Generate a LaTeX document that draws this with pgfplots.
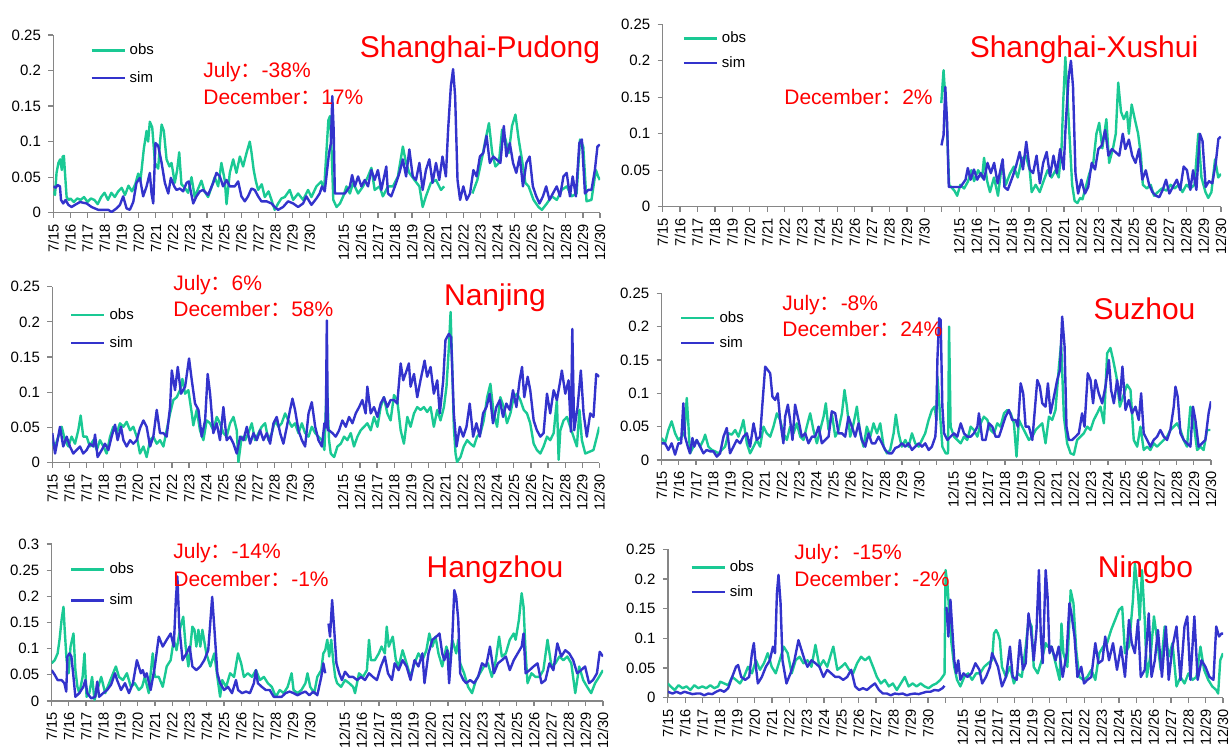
\documentclass[border=0pt]{standalone}
\usepackage{pgfplots}
\pgfplotsset{compat=1.18}
\usepackage{fontspec}
\setmainfont{Liberation Sans}
\newfontfamily\cjk{Noto Sans CJK SC}
\definecolor{obsc}{RGB}{26,201,148}
\definecolor{simc}{RGB}{51,51,204}
\definecolor{axgray}{RGB}{134,134,134}
\definecolor{lblred}{RGB}{255,0,0}
\newcommand{\fc}{{\cjk ：}}
\pgfplotsset{
  panel/.style={
    scale only axis, xmin=0, xmax=32, ymin=0,
    axis x line*=bottom, axis y line*=left,
    axis line style={draw=axgray, line width=0.7pt},
    tick style={draw=axgray, line width=0.6pt},
    tick align=outside, major tick length=2.5pt,
    xtick={0,...,32},
    xticklabels={7/15,7/16,7/17,7/18,7/19,7/20,7/21,7/22,7/23,7/24,7/25,7/26,7/27,7/28,7/29,7/30,{},12/15,12/16,12/17,12/18,12/19,12/20,12/21,12/22,12/23,12/24,12/25,12/26,12/27,12/28,12/29,12/30},
    x tick label style={rotate=90, anchor=east, font=\fontsize{7.3}{8}\selectfont, inner sep=3pt},
    y tick label style={font=\fontsize{7.5}{8}\selectfont, inner sep=3.5pt},
    scaled y ticks=false,
    yticklabel style={/pgf/number format/fixed, /pgf/number format/precision=2},
    /pgf/number format/assume math mode=true,
    unbounded coords=jump,
    legend cell align=left,
    legend image code/.code={\draw[##1, line width=1.2pt] (0pt,0pt) -- (16.5pt,0pt);},
    every axis plot/.append style={line width=1.2pt, line join=round, no marks},
  },
  obs/.style={color=obsc},
  sim/.style={color=simc},
  leg/.style n args={3}{legend style={at={(#1,#2)}, anchor=north west, draw=none, fill=none, inner sep=0pt, font=\fontsize{7.5}{8}\selectfont, row sep=#3}},
}
\begin{document}
\begin{tikzpicture}
\path[use as bounding box] (0pt,0pt) rectangle (615.5pt,377pt);

% ---------- Panel 1: Shanghai-Pudong ----------
\begin{axis}[panel, at={(26.65pt,270.65pt)}, anchor=south west, width=273.35pt, height=88.85pt,
  ymax=0.25, ytick={0,0.05,0.1,0.15,0.2,0.25}, leg={0.067}{0.977}{3pt}]
\addplot[obs] coordinates {(0,0.030) (0.1,0.025) (0.19,0.056) (0.3,0.07) (0.4,0.075) (0.5,0.06) (0.55,0.079) (0.62,0.08) (0.7,0.05) (0.78,0.022) (0.9,0.018) (1.0,0.02) (1.2,0.015) (1.4,0.02) (1.6,0.018) (1.8,0.022) (2.0,0.015) (2.2,0.02) (2.4,0.018) (2.6,0.012) (2.8,0.022) (3.0,0.028) (3.2,0.018) (3.4,0.028) (3.6,0.022) (3.8,0.03) (4.0,0.035) (4.2,0.025) (4.4,0.038) (4.6,0.03) (4.8,0.04) (4.97,0.055) (5.1,0.045) (5.3,0.09) (5.46,0.115) (5.55,0.1) (5.65,0.128) (5.79,0.12) (5.95,0.07) (6.14,0.062) (6.25,0.1) (6.34,0.124) (6.47,0.115) (6.63,0.075) (6.8,0.065) (6.92,0.07) (7.11,0.042) (7.25,0.06) (7.37,0.085) (7.5,0.04) (7.7,0.035) (7.89,0.028) (8.09,0.05) (8.28,0.022) (8.5,0.035) (8.67,0.045) (8.85,0.03) (9.06,0.022) (9.25,0.035) (9.45,0.05) (9.65,0.037) (9.84,0.07) (10.04,0.045) (10.14,0.012) (10.33,0.056) (10.53,0.075) (10.72,0.056) (10.92,0.079) (11.11,0.065) (11.31,0.084) (11.5,0.1) (11.6,0.085) (11.73,0.06) (11.85,0.045) (11.99,0.032) (12.2,0.04) (12.38,0.022) (12.6,0.03) (12.77,0.018) (12.96,0.004) (13.16,0.013) (13.35,0.02) (13.55,0.022) (13.84,0.032) (14.04,0.018) (14.33,0.027) (14.62,0.018) (14.91,0.032) (15.11,0.022) (15.4,0.037) (15.69,0.044) (15.85,0.032)
(16.10,0.13) (16.2,0.136) (16.3,0.08) (16.39,0.018) (16.58,0.008) (16.78,0.013) (16.97,0.023) (17.16,0.037) (17.36,0.027) (17.55,0.042) (17.84,0.027) (18.13,0.037) (18.42,0.051) (18.62,0.063) (18.81,0.032) (19.1,0.037) (19.29,0.023) (19.59,0.037) (19.88,0.037) (20.17,0.051) (20.46,0.093) (20.65,0.07) (20.84,0.056) (21.14,0.046) (21.43,0.037) (21.62,0.008) (21.81,0.023) (22.1,0.042) (22.4,0.046) (22.69,0.032) (22.88,0.037) (23.7,nan)
(24.53,0.027) (24.82,0.046) (25.11,0.079) (25.3,0.103) (25.5,0.126) (25.69,0.084) (25.88,0.065) (26.08,0.07) (26.27,0.117) (26.47,0.103) (26.66,0.084) (26.85,0.122) (27.05,0.138) (27.24,0.103) (27.43,0.075) (27.63,0.042) (27.82,0.037) (28.11,0.018) (28.4,0.008) (28.6,0.004) (28.89,0.013) (29.18,0.023) (29.47,0.018) (29.76,0.032) (30.05,0.037) (30.34,0.023) (30.63,0.027) (30.83,0.103) (31.02,0.093) (31.21,0.016) (31.5,0.018) (31.76,0.06) (31.89,0.051) (31.99,0.046)};
\addlegendentry{obs}
\addplot[sim] coordinates {(0,0.037) (0.14,0.035) (0.25,0.039) (0.39,0.037) (0.45,0.018) (0.58,0.013) (0.72,0.018) (0.88,0.011) (1.07,0.008) (1.27,0.011) (1.56,0.015) (1.95,0.013) (2.24,0.008) (2.63,0.004) (2.92,0.004) (3.22,0.004) (3.41,0.001) (3.7,0.006) (3.9,0.011) (4.09,0.023) (4.29,0.006) (4.48,0.004) (4.68,0.015) (4.87,0.042) (5.07,0.049) (5.26,0.023) (5.46,0.037) (5.65,0.056) (5.75,0.027) (5.85,0.013) (5.98,0.098) (6.14,0.094) (6.34,0.07) (6.53,0.042) (6.73,0.027) (6.88,0.049) (7.08,0.037) (7.21,0.032) (7.41,0.034) (7.6,0.030) (7.8,0.042) (7.93,0.044) (8.19,0.013) (8.38,0.023) (8.58,0.030) (8.77,0.032) (9.06,0.025) (9.36,0.042) (9.55,0.056) (9.75,0.051) (9.94,0.037) (10.14,0.046) (10.33,0.037) (10.62,0.037) (10.82,0.044) (11.01,0.023) (11.21,0.016) (11.4,0.023) (11.6,0.034) (11.79,0.032) (11.99,0.023) (12.18,0.016) (12.48,0.016) (12.77,0.013) (12.96,0.008) (13.16,0.004) (13.45,0.008) (13.74,0.016) (14.04,0.013) (14.33,0.008) (14.62,0.013) (14.81,0.023) (15.11,0.011) (15.4,0.020) (15.59,0.027) (15.73,0.037) (15.89,0.030)
(16.14,0.084) (16.25,0.098) (16.33,0.164) (16.41,0.117) (16.48,0.027) (16.78,0.027) (17.07,0.027) (17.36,0.037) (17.49,0.053) (17.65,0.037) (17.84,0.051) (18.03,0.037) (18.23,0.046) (18.42,0.037) (18.62,0.06) (18.81,0.046) (19.0,0.06) (19.2,0.032) (19.49,0.065) (19.59,0.027) (19.78,0.023) (20.07,0.042) (20.26,0.056) (20.46,0.075) (20.65,0.051) (20.84,0.089) (21.04,0.051) (21.23,0.046) (21.43,0.07) (21.62,0.032) (21.81,0.06) (22.01,0.075) (22.2,0.042) (22.4,0.07) (22.59,0.046) (22.78,0.079) (22.98,0.051) (23.11,0.117) (23.27,0.178) (23.4,0.202) (23.52,0.164) (23.66,0.046) (23.81,0.018) (24.0,0.037) (24.2,0.018) (24.39,0.027) (24.59,0.06) (24.78,0.051) (24.97,0.079) (25.17,0.084) (25.36,0.108) (25.55,0.07) (25.75,0.079) (25.94,0.075) (26.17,0.07) (26.37,0.122) (26.52,0.079) (26.72,0.098) (26.91,0.07) (27.1,0.056) (27.3,0.079) (27.49,0.037) (27.69,0.07) (27.88,0.079) (28.07,0.037) (28.27,0.023) (28.46,0.013) (28.66,0.023) (28.85,0.037) (29.04,0.018) (29.24,0.027) (29.47,0.037) (29.66,0.023) (29.86,0.051) (30.05,0.056) (30.24,0.023) (30.4,0.051) (30.59,0.023) (30.79,0.098) (30.94,0.103) (31.12,0.027) (31.31,0.032) (31.5,0.032) (31.7,0.06) (31.85,0.093) (31.99,0.096)};
\addlegendentry{sim}
\end{axis}

% ---------- Panel 2: Shanghai-Xushui ----------
\begin{axis}[panel, at={(331.3pt,273.65pt)}, anchor=south west, width=279.2pt, height=91.2pt,
  ymax=0.25, ytick={0,0.05,0.1,0.15,0.2,0.25}, leg={0.035}{0.985}{1.5pt}]
\addplot[obs] coordinates {(15.97,0.142) (16.1,0.187) (16.28,0.12) (16.42,0.03) (16.72,0.022) (16.88,0.015) (17.06,0.03) (17.28,0.025) (17.51,0.035) (17.69,0.05) (17.85,0.035) (18.08,0.05) (18.31,0.04) (18.42,0.067) (18.6,0.035) (18.76,0.02) (18.99,0.04) (19.22,0.015) (19.45,0.06) (19.67,0.03) (19.9,0.045) (20.13,0.055) (20.35,0.04) (20.58,0.065) (20.81,0.07) (21.04,0.05) (21.15,0.02) (21.38,0.03) (21.61,0.02) (21.83,0.035) (22.06,0.05) (22.29,0.04) (22.52,0.05) (22.7,0.04) (22.86,0.08) (22.97,0.15) (23.08,0.205) (23.2,0.15) (23.38,0.07) (23.47,0.03) (23.61,0.008) (23.77,0.005) (23.93,0.012) (24.06,0.01) (24.45,0.045) (24.68,0.06) (24.86,0.1) (25.02,0.115) (25.2,0.08) (25.43,0.12) (25.59,0.06) (25.81,0.08) (25.97,0.1) (26.11,0.17) (26.27,0.13) (26.43,0.12) (26.61,0.13) (26.72,0.1) (26.88,0.14) (27.06,0.12) (27.25,0.1) (27.41,0.07) (27.52,0.03) (27.75,0.025) (27.97,0.03) (28.16,0.015) (28.38,0.02) (28.61,0.025) (28.88,0.022) (29.11,0.03) (29.34,0.025) (29.57,0.03) (29.79,0.02) (30.02,0.03) (30.25,0.025) (30.48,0.03) (30.7,0.1) (30.88,0.04) (31.11,0.02) (31.27,0.012) (31.45,0.02) (31.66,0.065) (31.84,0.04) (32.0,0.045)};
\addlegendentry{obs}
\addplot[sim] coordinates {(15.98,0.084) (16.1,0.098) (16.2,0.164) (16.3,0.117) (16.4,0.027) (16.78,0.027) (17.07,0.027) (17.36,0.037) (17.49,0.053) (17.65,0.037) (17.84,0.051) (18.03,0.037) (18.23,0.046) (18.42,0.037) (18.62,0.06) (18.81,0.046) (19.0,0.06) (19.2,0.032) (19.49,0.065) (19.59,0.027) (19.78,0.023) (20.07,0.042) (20.26,0.056) (20.46,0.075) (20.65,0.051) (20.84,0.089) (21.04,0.051) (21.23,0.046) (21.43,0.07) (21.62,0.032) (21.81,0.06) (22.01,0.075) (22.2,0.042) (22.4,0.07) (22.59,0.046) (22.78,0.079) (22.98,0.051) (23.11,0.117) (23.27,0.178) (23.4,0.2) (23.52,0.164) (23.66,0.046) (23.81,0.018) (24.0,0.037) (24.2,0.018) (24.39,0.027) (24.59,0.06) (24.78,0.051) (24.97,0.079) (25.17,0.084) (25.36,0.105) (25.55,0.07) (25.75,0.079) (25.94,0.075) (26.17,0.07) (26.37,0.1) (26.52,0.079) (26.72,0.092) (26.91,0.07) (27.1,0.06) (27.3,0.079) (27.49,0.037) (27.69,0.05) (27.88,0.03) (28.07,0.02) (28.27,0.015) (28.46,0.013) (28.66,0.023) (28.85,0.037) (29.04,0.018) (29.24,0.027) (29.47,0.037) (29.66,0.023) (29.86,0.055) (30.05,0.05) (30.24,0.023) (30.4,0.05) (30.59,0.023) (30.79,0.1) (30.94,0.09) (31.12,0.027) (31.31,0.035) (31.5,0.032) (31.7,0.06) (31.85,0.093) (31.99,0.096)};
\addlegendentry{sim}
\end{axis}

% ---------- Panel 3: Nanjing ----------
\begin{axis}[panel, at={(26.15pt,145.65pt)}, anchor=south west, width=273.5pt, height=88pt,
  ymax=0.25, ytick={0,0.05,0.1,0.15,0.2,0.25}, leg={0.032}{0.902}{3pt}]
\addplot[obs] coordinates {(0,0.027) (0.16,0.023) (0.35,0.037) (0.55,0.051) (0.74,0.032) (0.94,0.023) (1.13,0.037) (1.33,0.027) (1.52,0.046) (1.66,0.067) (1.81,0.037) (2.01,0.037) (2.2,0.023) (2.4,0.032) (2.6,0.018) (2.79,0.032) (2.99,0.023) (3.18,0.013) (3.38,0.037) (3.57,0.051) (3.77,0.042) (3.96,0.056) (4.16,0.051) (4.35,0.058) (4.55,0.046) (4.74,0.051) (4.94,0.037) (5.13,0.013) (5.33,0.023) (5.52,0.008) (5.72,0.032) (5.91,0.037) (6.11,0.027) (6.3,0.032) (6.5,0.023) (6.69,0.046) (6.89,0.070) (7.08,0.089) (7.28,0.093) (7.47,0.103) (7.61,0.119) (7.77,0.098) (7.96,0.103) (8.16,0.070) (8.25,0.053) (8.45,0.075) (8.64,0.046) (8.84,0.032) (9.03,0.060) (9.23,0.056) (9.42,0.046) (9.62,0.065) (9.81,0.056) (10.01,0.042) (10.2,0.037) (10.4,0.056) (10.6,0.065) (10.79,0.046) (10.89,0.001) (11.08,0.037) (11.28,0.032) (11.47,0.042) (11.67,0.056) (11.86,0.032) (12.06,0.042) (12.25,0.051) (12.45,0.056) (12.64,0.032) (12.84,0.042) (13.03,0.060) (13.23,0.051) (13.42,0.056) (13.62,0.070) (13.81,0.060) (14.01,0.051) (14.2,0.056) (14.4,0.042) (14.6,0.056) (14.79,0.042) (14.99,0.037) (15.18,0.051) (15.38,0.042) (15.57,0.037) (15.77,0.032) (15.92,0.018)
(16.06,0.117) (16.19,0.032) (16.29,0.013) (16.49,0.008) (16.68,0.023) (16.88,0.027) (17.07,0.037) (17.26,0.032) (17.46,0.042) (17.65,0.023) (17.85,0.037) (18.04,0.046) (18.24,0.051) (18.43,0.056) (18.63,0.046) (18.82,0.065) (19.02,0.051) (19.21,0.079) (19.4,0.093) (19.6,0.070) (19.79,0.060) (19.99,0.096) (20.18,0.089) (20.38,0.046) (20.57,0.027) (20.77,0.065) (20.96,0.051) (21.16,0.070) (21.35,0.079) (21.54,0.075) (21.74,0.079) (21.93,0.072) (22.13,0.079) (22.32,0.051) (22.52,0.075) (22.71,0.060) (22.91,0.079) (23.06,0.108) (23.2,0.164) (23.3,0.214) (23.39,0.141) (23.49,0.051) (23.59,0.013) (23.68,0.001) (23.88,0.008) (24.07,0.023) (24.27,0.032) (24.46,0.027) (24.66,0.023) (24.85,0.037) (25.05,0.042) (25.24,0.060) (25.44,0.093) (25.63,0.112) (25.82,0.070) (26.02,0.051) (26.21,0.093) (26.41,0.079) (26.6,0.056) (26.8,0.070) (26.99,0.093) (27.19,0.098) (27.38,0.089) (27.58,0.075) (27.77,0.070) (27.96,0.056) (28.16,0.027) (28.35,0.018) (28.55,0.013) (28.74,0.023) (28.94,0.037) (29.13,0.032) (29.33,0.042) (29.52,0.089) (29.62,0.004) (29.72,0.046) (29.91,0.060) (30.11,0.065) (30.3,0.051) (30.49,0.037) (30.69,0.023) (30.84,0.075) (30.98,0.032) (31.18,0.013) (31.47,0.016) (31.66,0.018) (31.86,0.037) (32.0,0.051)};
\addlegendentry{obs}
\addplot[sim] coordinates {(0,0.042) (0.16,0.013) (0.31,0.032) (0.45,0.051) (0.64,0.023) (0.84,0.037) (1.03,0.023) (1.23,0.013) (1.42,0.018) (1.62,0.023) (1.81,0.013) (2.01,0.018) (2.2,0.027) (2.4,0.023) (2.5,0.040) (2.65,0.008) (2.89,0.018) (3.08,0.027) (3.28,0.018) (3.47,0.037) (3.67,0.054) (3.82,0.032) (4.02,0.051) (4.16,0.032) (4.35,0.023) (4.55,0.032) (4.74,0.027) (4.94,0.032) (5.13,0.049) (5.33,0.060) (5.52,0.051) (5.72,0.023) (5.91,0.037) (6.11,0.075) (6.3,0.042) (6.5,0.042) (6.69,0.037) (6.89,0.079) (6.99,0.131) (7.18,0.103) (7.34,0.136) (7.53,0.098) (7.77,0.108) (8.0,0.148) (8.16,0.117) (8.35,0.084) (8.55,0.075) (8.74,0.037) (8.94,0.060) (9.09,0.126) (9.23,0.098) (9.42,0.042) (9.62,0.056) (9.81,0.032) (10.01,0.079) (10.2,0.032) (10.4,0.037) (10.6,0.027) (10.79,0.013) (10.99,0.037) (11.18,0.032) (11.38,0.051) (11.57,0.027) (11.77,0.042) (11.96,0.032) (12.16,0.046) (12.35,0.032) (12.55,0.042) (12.74,0.027) (12.94,0.056) (13.13,0.065) (13.33,0.042) (13.52,0.027) (13.72,0.051) (13.91,0.075) (14.05,0.091) (14.2,0.075) (14.4,0.046) (14.6,0.032) (14.79,0.023) (14.99,0.070) (15.18,0.086) (15.38,0.051) (15.57,0.032) (15.77,0.023) (15.92,0.056) (16.0,0.05)
(16.06,0.202) (16.12,0.046) (16.19,0.046) (16.39,0.042) (16.58,0.037) (16.78,0.046) (16.97,0.060) (17.17,0.051) (17.36,0.065) (17.56,0.056) (17.75,0.070) (17.95,0.079) (18.14,0.089) (18.33,0.070) (18.43,0.108) (18.63,0.070) (18.82,0.079) (19.02,0.065) (19.21,0.084) (19.4,0.093) (19.6,0.079) (19.79,0.089) (19.99,0.089) (20.18,0.084) (20.38,0.141) (20.53,0.117) (20.73,0.131) (20.86,0.141) (20.96,0.108) (21.16,0.126) (21.35,0.093) (21.54,0.117) (21.78,0.145) (21.93,0.122) (22.13,0.136) (22.32,0.098) (22.52,0.117) (22.67,0.070) (22.87,0.117) (23.0,0.174) (23.2,0.183) (23.33,0.178) (23.49,0.070) (23.65,0.023) (23.84,0.051) (24.04,0.037) (24.23,0.051) (24.42,0.084) (24.62,0.037) (24.81,0.056) (25.01,0.037) (25.2,0.070) (25.4,0.079) (25.59,0.098) (25.78,0.056) (25.98,0.079) (26.18,0.089) (26.37,0.065) (26.56,0.084) (26.76,0.075) (26.95,0.103) (27.15,0.079) (27.34,0.117) (27.48,0.136) (27.61,0.093) (27.81,0.122) (27.96,0.103) (28.16,0.060) (28.35,0.046) (28.55,0.037) (28.74,0.042) (28.94,0.098) (29.13,0.070) (29.33,0.103) (29.52,0.089) (29.72,0.117) (29.81,0.131) (30.01,0.098) (30.2,0.117) (30.34,0.044) (30.42,0.190) (30.53,0.046) (30.73,0.079) (30.92,0.131) (31.08,0.070) (31.27,0.037) (31.47,0.070) (31.66,0.065) (31.82,0.126) (32.0,0.122)};
\addlegendentry{sim}
\end{axis}

% ---------- Panel 4: Suzhou ----------
\begin{axis}[panel, at={(330.85pt,147pt)}, anchor=south west, width=274.65pt, height=83.35pt,
  ymax=0.25, ytick={0,0.05,0.1,0.15,0.2,0.25}, leg={0.033}{0.918}{1.5pt}]
\addplot[obs] coordinates {(0,0.033) (0.19,0.025) (0.39,0.045) (0.58,0.058) (0.78,0.04) (0.97,0.03) (1.17,0.035) (1.32,0.04) (1.46,0.093) (1.55,0.055) (1.65,0.01) (1.85,0.02) (2.04,0.03) (2.24,0.02) (2.43,0.03) (2.53,0.038) (2.72,0.02) (2.92,0.015) (3.11,0.013) (3.3,0.01) (3.5,0.015) (3.69,0.02) (3.89,0.04) (4.08,0.038) (4.28,0.045) (4.47,0.035) (4.66,0.05) (4.76,0.06) (4.96,0.025) (5.15,0.01) (5.35,0.02) (5.54,0.03) (5.73,0.02) (5.93,0.05) (6.12,0.04) (6.32,0.035) (6.51,0.05) (6.71,0.07) (6.9,0.06) (7.09,0.04) (7.29,0.03) (7.48,0.05) (7.68,0.04) (7.87,0.055) (8.07,0.035) (8.26,0.03) (8.45,0.05) (8.65,0.07) (8.84,0.045) (9.04,0.025) (9.23,0.045) (9.43,0.065) (9.56,0.085) (9.72,0.045) (9.91,0.07) (10.11,0.035) (10.3,0.045) (10.5,0.07) (10.65,0.105) (10.79,0.08) (10.98,0.035) (11.18,0.055) (11.37,0.08) (11.56,0.04) (11.76,0.02) (11.95,0.05) (12.15,0.035) (12.34,0.055) (12.54,0.04) (12.73,0.055) (12.93,0.02) (13.12,0.01) (13.31,0.015) (13.51,0.04) (13.64,0.068) (13.8,0.04) (13.99,0.02) (14.19,0.03) (14.38,0.02) (14.58,0.04) (14.77,0.025) (14.97,0.02) (15.16,0.03) (15.35,0.04) (15.55,0.06) (15.74,0.075) (15.9,0.08) (16.0,0.06)
(16.06,0.125) (16.21,0.07) (16.35,0.02) (16.54,0.01) (16.68,0.01) (16.74,0.2) (16.83,0.05) (17.03,0.035) (17.22,0.03) (17.42,0.025) (17.61,0.035) (17.8,0.03) (18.0,0.05) (18.19,0.045) (18.39,0.035) (18.58,0.055) (18.77,0.065) (18.97,0.06) (19.16,0.045) (19.36,0.04) (19.55,0.055) (19.74,0.05) (19.94,0.07) (20.13,0.075) (20.33,0.07) (20.52,0.055) (20.67,0.005) (20.81,0.06) (21.0,0.05) (21.2,0.04) (21.39,0.03) (21.59,0.035) (21.78,0.045) (21.97,0.05) (22.17,0.055) (22.36,0.025) (22.56,0.065) (22.75,0.06) (22.94,0.075) (23.14,0.14) (23.27,0.175) (23.43,0.065) (23.62,0.025) (23.82,0.01) (24.01,0.008) (24.2,0.03) (24.4,0.035) (24.59,0.04) (24.79,0.05) (24.98,0.045) (25.17,0.06) (25.37,0.07) (25.56,0.08) (25.76,0.055) (25.95,0.16) (26.14,0.168) (26.3,0.15) (26.49,0.125) (26.69,0.08) (26.88,0.095) (27.11,0.113) (27.31,0.105) (27.5,0.03) (27.7,0.02) (27.89,0.05) (28.08,0.015) (28.28,0.02) (28.47,0.015) (28.66,0.025) (28.86,0.02) (29.05,0.025) (29.25,0.03) (29.44,0.035) (29.63,0.045) (29.83,0.05) (30.02,0.055) (30.22,0.045) (30.41,0.03) (30.6,0.02) (30.8,0.08) (30.99,0.055) (31.19,0.015) (31.38,0.02) (31.57,0.015) (31.77,0.045) (31.96,0.045)};
\addlegendentry{obs}
\addplot[sim] coordinates {(0,0.025) (0.19,0.025) (0.39,0.015) (0.58,0.025) (0.78,0.008) (0.97,0.025) (1.13,0.025) (1.26,0.085) (1.36,0.035) (1.52,0.02) (1.65,0.01) (1.79,0.033) (1.9,0.02) (2.04,0.03) (2.24,0.02) (2.43,0.01) (2.62,0.015) (2.82,0.013) (3.01,0.013) (3.21,0.005) (3.4,0.01) (3.6,0.035) (3.79,0.048) (3.98,0.01) (4.18,0.02) (4.37,0.03) (4.57,0.025) (4.76,0.035) (4.96,0.04) (5.15,0.02) (5.35,0.055) (5.54,0.03) (5.73,0.035) (5.87,0.085) (6.03,0.14) (6.18,0.135) (6.32,0.13) (6.45,0.095) (6.61,0.09) (6.76,0.1) (6.9,0.06) (7.09,0.025) (7.19,0.065) (7.35,0.083) (7.48,0.06) (7.62,0.03) (7.77,0.083) (7.97,0.06) (8.16,0.035) (8.36,0.04) (8.55,0.025) (8.75,0.035) (8.94,0.035) (9.14,0.05) (9.33,0.025) (9.52,0.03) (9.72,0.035) (9.91,0.073) (10.11,0.07) (10.3,0.04) (10.5,0.04) (10.69,0.035) (10.88,0.065) (11.08,0.05) (11.27,0.035) (11.47,0.055) (11.66,0.03) (11.86,0.02) (12.05,0.04) (12.24,0.025) (12.44,0.025) (12.63,0.035) (12.83,0.025) (13.02,0.015) (13.22,0.01) (13.41,0.01) (13.61,0.018) (13.8,0.02) (13.99,0.025) (14.19,0.02) (14.38,0.025) (14.58,0.015) (14.77,0.02) (14.97,0.025) (15.16,0.02) (15.35,0.025) (15.55,0.015) (15.74,0.02) (15.94,0.035) (16.0,0.06)
(16.06,0.15) (16.16,0.2125) (16.25,0.21) (16.35,0.08) (16.45,0.04) (16.64,0.03) (16.83,0.035) (17.03,0.04) (17.22,0.035) (17.42,0.055) (17.61,0.04) (17.8,0.035) (18.0,0.035) (18.19,0.04) (18.39,0.05) (18.48,0.07) (18.68,0.03) (18.87,0.03) (19.06,0.055) (19.26,0.05) (19.45,0.035) (19.65,0.035) (19.84,0.05) (20.03,0.065) (20.23,0.075) (20.42,0.06) (20.62,0.06) (20.75,0.05) (20.91,0.115) (21.06,0.1) (21.2,0.05) (21.39,0.05) (21.59,0.03) (21.72,0.07) (21.88,0.12) (22.03,0.11) (22.17,0.085) (22.36,0.08) (22.5,0.115) (22.65,0.07) (22.85,0.095) (23.04,0.12) (23.2,0.135) (23.33,0.215) (23.47,0.17) (23.58,0.05) (23.72,0.03) (23.91,0.03) (24.11,0.035) (24.3,0.04) (24.49,0.07) (24.63,0.05) (24.82,0.13) (24.98,0.12) (25.13,0.085) (25.27,0.12) (25.46,0.1) (25.66,0.085) (25.85,0.11) (26.05,0.15) (26.18,0.105) (26.34,0.085) (26.53,0.12) (26.69,0.09) (26.84,0.14) (27.02,0.075) (27.21,0.09) (27.4,0.07) (27.6,0.08) (27.79,0.06) (27.93,0.1) (28.08,0.04) (28.28,0.03) (28.47,0.02) (28.66,0.03) (28.86,0.035) (29.05,0.045) (29.25,0.035) (29.44,0.03) (29.63,0.045) (29.83,0.08) (29.93,0.11) (30.06,0.095) (30.22,0.04) (30.41,0.03) (30.6,0.025) (30.8,0.02) (30.95,0.08) (31.09,0.06) (31.28,0.02) (31.48,0.025) (31.67,0.03) (31.86,0.07) (32.0,0.088)};
\addlegendentry{sim}
\end{axis}

% ---------- Panel 5: Hangzhou ----------
\begin{axis}[panel, at={(25.8pt,26.5pt)}, anchor=south west, width=275.7pt, height=78.5pt,
  ymax=0.3, ytick={0,0.05,0.1,0.15,0.2,0.25,0.3}, leg={0.033}{0.91}{4.5pt}]
\addplot[obs] coordinates {(0,0.072) (0.18,0.078) (0.35,0.091) (0.46,0.117) (0.58,0.155) (0.69,0.18) (0.76,0.136) (0.87,0.078) (0.99,0.053) (1.1,0.104) (1.27,0.129) (1.38,0.059) (1.5,0.027) (1.61,0.015) (1.8,0.046) (1.91,0.091) (2.03,0.008) (2.19,0.015) (2.35,0.046) (2.49,0.002) (2.65,0.021) (2.88,0.046) (3.11,0.015) (3.34,0.034) (3.57,0.053) (3.73,0.066) (3.91,0.046) (4.14,0.04) (4.37,0.053) (4.6,0.027) (4.83,0.034) (5.06,0.021) (5.25,0.027) (5.41,0.046) (5.64,0.015) (5.75,0.053) (5.87,0.091) (5.99,0.046) (6.22,0.046) (6.45,0.027) (6.68,0.066) (6.91,0.078) (7.09,0.117) (7.25,0.097) (7.48,0.142) (7.64,0.161) (7.78,0.104) (7.94,0.066) (8.17,0.142) (8.29,0.136) (8.4,0.104) (8.52,0.136) (8.63,0.104) (8.75,0.136) (8.98,0.091) (9.21,0.066) (9.44,0.091) (9.62,0.046) (9.78,0.008) (9.9,0.04) (10.13,0.027) (10.36,0.053) (10.59,0.046) (10.82,0.091) (11.0,0.072) (11.16,0.046) (11.39,0.053) (11.63,0.046) (11.86,0.059) (12.09,0.04) (12.32,0.046) (12.55,0.034) (12.78,0.027) (13.01,0.008) (13.24,0.021) (13.47,0.015) (13.7,0.027) (13.93,0.053) (14.04,0.021) (14.27,0.015) (14.5,0.021) (14.73,0.034) (14.85,0.053) (15.01,0.027) (15.24,0.015) (15.42,0.046) (15.65,0.059) (15.77,0.091) (15.88,0.097) (16.0,0.117)
(16.11,0.085) (16.23,0.117) (16.34,0.078) (16.46,0.046) (16.57,0.034) (16.8,0.027) (17.03,0.04) (17.27,0.034) (17.5,0.027) (17.61,0.015) (17.84,0.053) (18.07,0.046) (18.3,0.059) (18.42,0.117) (18.53,0.078) (18.76,0.078) (18.99,0.091) (19.15,0.104) (19.34,0.091) (19.45,0.142) (19.57,0.104) (19.8,0.123) (19.98,0.078) (20.14,0.066) (20.37,0.097) (20.6,0.072) (20.83,0.046) (21.06,0.072) (21.29,0.091) (21.52,0.078) (21.75,0.097) (21.92,0.129) (22.1,0.104) (22.28,0.123) (22.45,0.091) (22.67,0.066) (22.91,0.104) (23.14,0.078) (23.25,0.117) (23.37,0.104) (23.48,0.091) (23.6,0.117) (23.71,0.072) (23.94,0.053) (24.17,0.027) (24.4,0.015) (24.63,0.04) (24.86,0.053) (25.09,0.066) (25.32,0.072) (25.55,0.046) (25.78,0.078) (25.97,0.123) (26.13,0.085) (26.36,0.091) (26.59,0.117) (26.82,0.129) (26.93,0.117) (27.12,0.155) (27.28,0.206) (27.39,0.18) (27.51,0.091) (27.62,0.034) (27.85,0.053) (28.08,0.046) (28.31,0.046) (28.54,0.059) (28.78,0.117) (29.01,0.066) (29.24,0.072) (29.47,0.085) (29.7,0.078) (29.93,0.085) (30.16,0.072) (30.39,0.015) (30.62,0.066) (30.85,0.04) (31.08,0.027) (31.31,0.015) (31.54,0.034) (31.77,0.046) (32.0,0.059)};
\addlegendentry{obs}
\addplot[sim] coordinates {(0,0.059) (0.18,0.05) (0.35,0.04) (0.58,0.04) (0.74,0.034) (0.85,0.018) (0.92,0.085) (1.04,0.091) (1.15,0.085) (1.27,0.046) (1.38,0.008) (1.61,0.015) (1.84,0.027) (1.96,0.04) (2.07,0.015) (2.3,0.005) (2.53,0.008) (2.65,0.037) (2.76,0.008) (2.99,0.015) (3.22,0.021) (3.45,0.031) (3.68,0.053) (3.8,0.04) (4.03,0.021) (4.26,0.034) (4.49,0.015) (4.72,0.034) (4.95,0.078) (5.06,0.066) (5.18,0.053) (5.29,0.059) (5.41,0.046) (5.52,0.053) (5.75,0.021) (5.99,0.066) (6.22,0.123) (6.45,0.104) (6.68,0.117) (6.91,0.129) (7.09,0.104) (7.21,0.193) (7.3,0.238) (7.41,0.142) (7.6,0.078) (7.83,0.091) (8.01,0.104) (8.17,0.066) (8.4,0.059) (8.63,0.066) (8.86,0.078) (9.09,0.097) (9.32,0.199) (9.44,0.142) (9.62,0.053) (9.78,0.034) (10.01,0.021) (10.24,0.027) (10.47,0.015) (10.7,0.04) (10.82,0.021) (11.05,0.015) (11.28,0.018) (11.51,0.015) (11.74,0.034) (11.86,0.059) (11.97,0.034) (12.2,0.027) (12.43,0.021) (12.66,0.021) (12.89,0.008) (13.12,0.008) (13.35,0.008) (13.58,0.015) (13.81,0.018) (14.04,0.015) (14.27,0.011) (14.5,0.015) (14.73,0.018) (14.96,0.011) (15.19,0.018) (15.42,0.011) (15.65,0.046) (15.77,0.072) (15.88,0.053) (16.0,nan)
(16.07,0.148) (16.16,0.123) (16.28,0.193) (16.39,0.142) (16.53,0.072) (16.69,0.053) (16.85,0.04) (17.03,0.056) (17.27,0.046) (17.5,0.046) (17.73,0.04) (17.96,0.046) (18.19,0.04) (18.42,0.053) (18.65,0.046) (18.88,0.04) (19.11,0.066) (19.34,0.085) (19.52,0.053) (19.75,0.04) (19.91,0.072) (20.14,0.059) (20.37,0.078) (20.6,0.066) (20.83,0.04) (21.06,0.078) (21.29,0.066) (21.52,0.091) (21.64,0.034) (21.87,0.091) (22.1,0.117) (22.33,0.123) (22.51,0.129) (22.67,0.091) (22.79,0.078) (22.97,0.097) (23.07,0.034) (23.25,0.117) (23.37,0.212) (23.48,0.199) (23.6,0.155) (23.71,0.053) (23.9,0.04) (24.06,0.034) (24.29,0.04) (24.52,0.034) (24.75,0.046) (24.98,0.072) (25.21,0.066) (25.44,0.104) (25.67,0.053) (25.9,0.072) (26.13,0.078) (26.36,0.085) (26.59,0.059) (26.82,0.078) (27.05,0.091) (27.28,0.104) (27.39,0.129) (27.51,0.053) (27.74,0.059) (27.97,0.066) (28.2,0.072) (28.43,0.034) (28.66,0.04) (28.89,0.072) (29.12,0.059) (29.35,0.11) (29.58,0.085) (29.81,0.097) (30.04,0.091) (30.27,0.078) (30.5,0.053) (30.73,0.059) (30.96,0.066) (31.19,0.034) (31.42,0.04) (31.65,0.053) (31.81,0.094) (32.0,0.085)};
\addlegendentry{sim}
\end{axis}

% ---------- Panel 6: Ningbo ----------
\begin{axis}[panel, at={(333.9pt,28.15pt)}, anchor=south west, width=277.6pt, height=74.2pt,
  ymax=0.25, ytick={0,0.05,0.1,0.15,0.2,0.25}, leg={0.04}{0.955}{1.5pt}]
\addplot[obs] coordinates {(0,0.024) (0.16,0.019) (0.39,0.013) (0.62,0.021) (0.85,0.016) (1.08,0.019) (1.3,0.013) (1.53,0.021) (1.76,0.016) (1.99,0.019) (2.22,0.016) (2.45,0.021) (2.68,0.016) (2.9,0.019) (3.02,0.027) (3.25,0.024) (3.48,0.021) (3.71,0.035) (3.93,0.03) (4.16,0.024) (4.39,0.035) (4.62,0.052) (4.85,0.041) (5.08,0.063) (5.31,0.047) (5.54,0.058) (5.76,0.075) (5.99,0.052) (6.22,0.041) (6.45,0.063) (6.68,0.086) (6.91,0.075) (7.14,0.041) (7.37,0.063) (7.59,0.069) (7.82,0.058) (8.05,0.063) (8.28,0.052) (8.51,0.089) (8.74,0.052) (8.97,0.063) (9.19,0.052) (9.42,0.075) (9.54,0.086) (9.77,0.047) (10.0,0.052) (10.22,0.058) (10.45,0.047) (10.68,0.041) (10.91,0.058) (11.14,0.069) (11.37,0.063) (11.6,0.069) (11.83,0.052) (12.05,0.035) (12.28,0.024) (12.51,0.03) (12.74,0.019) (12.97,0.024) (13.2,0.013) (13.43,0.024) (13.66,0.035) (13.88,0.019) (14.11,0.024) (14.34,0.019) (14.57,0.024) (14.8,0.019) (15.03,0.016) (15.26,0.021) (15.48,0.024) (15.71,0.03) (15.83,0.035) (15.95,0.04)
(16.01,0.215) (16.13,0.187) (16.24,0.131) (16.35,0.092) (16.51,0.052) (16.67,0.03) (16.86,0.019) (17.09,0.035) (17.31,0.041) (17.54,0.03) (17.77,0.041) (18.0,0.041) (18.23,0.052) (18.46,0.058) (18.69,0.063) (18.8,0.108) (18.92,0.114) (19.03,0.108) (19.14,0.097) (19.26,0.052) (19.49,0.035) (19.72,0.052) (19.95,0.024) (20.17,0.041) (20.4,0.035) (20.63,0.086) (20.79,0.131) (20.97,0.12) (21.09,0.052) (21.32,0.041) (21.55,0.063) (21.78,0.092) (21.89,0.086) (22.12,0.086) (22.35,0.058) (22.58,0.03) (22.69,0.125) (22.8,0.075) (23.03,0.052) (23.22,0.181) (23.38,0.159) (23.54,0.08) (23.72,0.035) (23.95,0.03) (24.18,0.035) (24.41,0.047) (24.64,0.03) (24.87,0.075) (25.09,0.086) (25.32,0.092) (25.55,0.114) (25.78,0.131) (26.01,0.148) (26.19,0.153) (26.35,0.075) (26.58,0.086) (26.81,0.165) (26.92,0.226) (27.1,0.176) (27.2,0.131) (27.33,0.215) (27.49,0.131) (27.61,0.035) (27.84,0.075) (28.02,0.137) (28.18,0.103) (28.41,0.047) (28.64,0.12) (28.87,0.069) (29.09,0.092) (29.32,0.019) (29.55,0.035) (29.78,0.024) (30.01,0.041) (30.24,0.03) (30.47,0.035) (30.7,0.086) (30.91,0.047) (31.15,0.03) (31.38,0.019) (31.61,0.013) (31.72,0.007) (31.84,0.063) (32.0,0.075)};
\addlegendentry{obs}
\addplot[sim] coordinates {(0,0.01) (0.27,0.007) (0.5,0.01) (0.73,0.007) (0.96,0.01) (1.19,0.008) (1.42,0.006) (1.65,0.007) (1.88,0.007) (2.1,0.004) (2.33,0.007) (2.56,0.006) (2.79,0.01) (3.02,0.013) (3.25,0.01) (3.48,0.016) (3.71,0.035) (3.93,0.052) (4.05,0.055) (4.23,0.035) (4.46,0.03) (4.69,0.035) (4.85,0.075) (4.96,0.092) (5.08,0.052) (5.19,0.024) (5.42,0.035) (5.65,0.052) (5.88,0.063) (6.06,0.086) (6.18,0.075) (6.29,0.176) (6.38,0.207) (6.5,0.159) (6.61,0.063) (6.84,0.024) (7.07,0.041) (7.3,0.063) (7.53,0.097) (7.71,0.08) (7.89,0.063) (8.05,0.052) (8.28,0.063) (8.51,0.058) (8.74,0.052) (8.97,0.035) (9.19,0.047) (9.42,0.041) (9.65,0.035) (9.88,0.035) (10.11,0.03) (10.34,0.035) (10.57,0.047) (10.8,0.019) (11.02,0.013) (11.25,0.016) (11.48,0.013) (11.71,0.019) (11.94,0.024) (12.17,0.013) (12.4,0.007) (12.63,0.007) (12.85,0.004) (13.08,0.007) (13.31,0.006) (13.54,0.007) (13.77,0.004) (14.0,0.006) (14.23,0.007) (14.46,0.006) (14.68,0.008) (14.91,0.01) (15.14,0.01) (15.37,0.013) (15.6,0.012) (15.83,0.016) (15.95,0.02) (16.0,nan)
(16.06,0.153) (16.17,0.103) (16.29,0.165) (16.4,0.114) (16.51,0.063) (16.63,0.041) (16.74,0.063) (16.86,0.03) (17.04,0.041) (17.27,0.035) (17.5,0.041) (17.73,0.058) (17.96,0.047) (18.12,0.024) (18.34,0.035) (18.57,0.052) (18.69,0.075) (18.87,0.063) (19.03,0.052) (19.26,0.019) (19.49,0.035) (19.72,0.086) (19.88,0.035) (20.11,0.03) (20.29,0.097) (20.47,0.047) (20.63,0.058) (20.79,0.142) (20.93,0.114) (21.09,0.063) (21.25,0.114) (21.39,0.215) (21.5,0.103) (21.61,0.058) (21.78,0.215) (21.89,0.17) (22.0,0.075) (22.12,0.086) (22.35,0.063) (22.53,0.086) (22.76,0.035) (22.99,0.075) (23.15,0.159) (23.26,0.142) (23.44,0.103) (23.61,0.035) (23.83,0.052) (23.99,0.024) (24.18,0.03) (24.41,0.035) (24.64,0.092) (24.82,0.058) (25.05,0.063) (25.21,0.103) (25.43,0.063) (25.66,0.092) (25.89,0.047) (26.12,0.086) (26.35,0.035) (26.58,0.131) (26.74,0.092) (26.92,0.075) (27.1,0.131) (27.26,0.035) (27.49,0.047) (27.72,0.142) (27.88,0.035) (28.07,0.063) (28.25,0.114) (28.48,0.035) (28.71,0.12) (28.87,0.03) (29.09,0.086) (29.32,0.12) (29.55,0.03) (29.78,0.12) (29.94,0.137) (30.12,0.03) (30.35,0.137) (30.54,0.03) (30.76,0.063) (30.99,0.052) (31.22,0.035) (31.45,0.03) (31.61,0.12) (31.77,0.103) (31.91,0.108) (32.0,0.108)};
\addlegendentry{sim}
\end{axis}

% ---------- Titles and annotations ----------
\begin{scope}[every node/.style={text=lblred, inner sep=0pt}]
\node[font=\fontsize{15}{18}\selectfont] at (240pt,352pt) {Shanghai-Pudong};
\node[font=\fontsize{15}{18}\selectfont] at (542pt,352pt) {Shanghai-Xushui};
\node[font=\fontsize{15}{18}\selectfont] at (247.5pt,228pt) {Nanjing};
\node[font=\fontsize{15}{18}\selectfont] at (572.25pt,222.5pt) {Suzhou};
\node[font=\fontsize{15}{18}\selectfont] at (247.5pt,92pt) {Hangzhou};
\node[font=\fontsize{15}{18}\selectfont] at (572.75pt,92pt) {Ningbo};
\node[anchor=west, font=\fontsize{10.5}{12}\selectfont] at (101.5pt,341pt) {July\fc-38\%};
\node[anchor=west, font=\fontsize{10.5}{12}\selectfont] at (101.5pt,328.5pt) {December\fc17\%};
\node[anchor=west, font=\fontsize{10.5}{12}\selectfont] at (392pt,328.5pt) {December\fc2\%};
\node[anchor=west, font=\fontsize{10.5}{12}\selectfont] at (86.5pt,234.5pt) {July\fc6\%};
\node[anchor=west, font=\fontsize{10.5}{12}\selectfont] at (86.5pt,222.5pt) {December\fc58\%};
\node[anchor=west, font=\fontsize{10.5}{12}\selectfont] at (391pt,224.5pt) {July\fc-8\%};
\node[anchor=west, font=\fontsize{10.5}{12}\selectfont] at (391pt,212.5pt) {December\fc24\%};
\node[anchor=west, font=\fontsize{10.5}{12}\selectfont] at (86.5pt,100.5pt) {July\fc-14\%};
\node[anchor=west, font=\fontsize{10.5}{12}\selectfont] at (86.5pt,87.5pt) {December\fc-1\%};
\node[anchor=west, font=\fontsize{10.5}{12}\selectfont] at (397pt,100pt) {July\fc-15\%};
\node[anchor=west, font=\fontsize{10.5}{12}\selectfont] at (397pt,87.5pt) {December\fc-2\%};
\end{scope}
\end{tikzpicture}
\end{document}
